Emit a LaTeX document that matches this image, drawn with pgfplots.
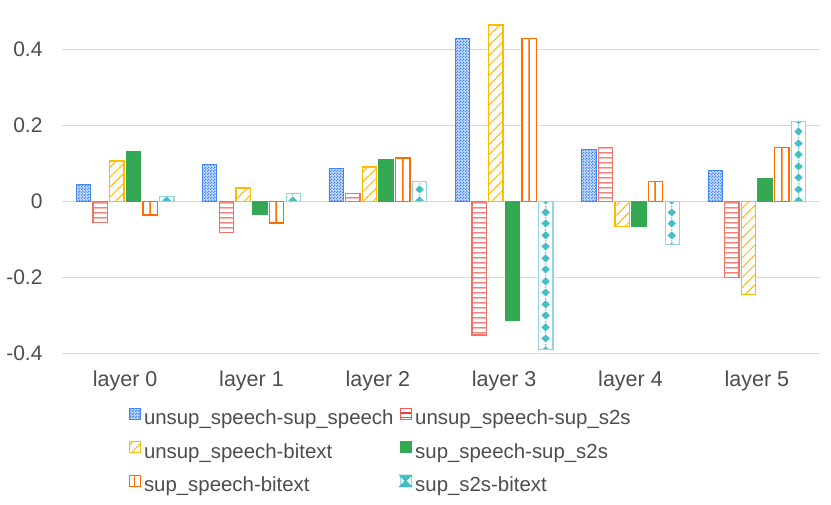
\documentclass[border=0pt]{standalone}
\usepackage{pgfplots}
\pgfplotsset{compat=1.18}
\usepackage{fontspec}
\setmainfont{Liberation Sans}
\usetikzlibrary{patterns.meta}
\definecolor{gblue}{HTML}{4285F4}
\definecolor{gred}{HTML}{EA4335}
\definecolor{gyellow}{HTML}{FBBC04}
\definecolor{ggreen}{HTML}{34A853}
\definecolor{gorange}{HTML}{FF6D01}
\definecolor{gteal}{HTML}{46BDC6}
\definecolor{txt}{HTML}{4D4D4D}
\definecolor{gridc}{HTML}{D9D9D9}
\pgfdeclarepattern{name=checker, type=uncolored,
  bottom left={\pgfpointorigin}, top right={\pgfpoint{3bp}{3bp}},
  tile size={\pgfpoint{3bp}{3bp}},
  code={\pgfpathrectangle{\pgfpointorigin}{\pgfpoint{1.6bp}{1.6bp}}%
        \pgfpathrectangle{\pgfpoint{1.5bp}{1.5bp}}{\pgfpoint{1.5bp}{1.5bp}}%
        \pgfusepath{fill}}}
\pgfdeclarepattern{name=hlines, type=uncolored,
  bottom left={\pgfpointorigin}, top right={\pgfpoint{379bp}{5bp}},
  tile size={\pgfpoint{379bp}{5bp}},
  code={\pgfpathrectangle{\pgfpoint{0bp}{2bp}}{\pgfpoint{379bp}{1.1bp}}\pgfusepath{fill}}}
% tile of three groups (3 x 126.333 = 379bp) so that its width is a whole number
\pgfdeclarepattern{name=vlines, type=uncolored,
  bottom left={\pgfpointorigin}, top right={\pgfpoint{379bp}{379bp}},
  tile size={\pgfpoint{379bp}{379bp}},
  code={\pgfpathrectangle{\pgfpoint{23.18bp}{0bp}}{\pgfpoint{1.5bp}{379bp}}%
        \pgfpathrectangle{\pgfpoint{149.52bp}{0bp}}{\pgfpoint{1.5bp}{379bp}}%
        \pgfpathrectangle{\pgfpoint{275.85bp}{0bp}}{\pgfpoint{1.5bp}{379bp}}%
        \pgfusepath{fill}}}
\def\dia#1#2{\pgfpathmoveto{\pgfpoint{#1bp}{\dimexpr#2bp-4.2bp\relax}}%
  \pgfpathlineto{\pgfpoint{\dimexpr#1bp+4.2bp\relax}{#2bp}}%
  \pgfpathlineto{\pgfpoint{#1bp}{\dimexpr#2bp+4.2bp\relax}}%
  \pgfpathlineto{\pgfpoint{\dimexpr#1bp-4.2bp\relax}{#2bp}}\pgfpathclose
  \pgfpathcircle{\pgfpoint{#1bp}{\dimexpr#2bp+5.75bp\relax}}{0.8bp}}
\pgfdeclarepattern{name=diamonds, type=uncolored,
  bottom left={\pgfpointorigin}, top right={\pgfpoint{379bp}{23bp}},
  tile size={\pgfpoint{379bp}{23bp}},
  code={\dia{40.58}{5.75}\dia{40.58}{17.25}%
        \dia{166.92}{5.75}\dia{166.92}{17.25}%
        \dia{293.25}{5.75}\dia{293.25}{17.25}%
        \pgfusepath{fill}}}
\pgfplotstableread{
x s1 s2 s3 s4 s5 s6
0 0.045 -0.056 0.106 0.130 -0.036 0.013
1 0.096 -0.082 0.035 -0.035 -0.057 0.021
2 0.087 0.021 0.090 0.110 0.114 0.052
3 0.428 -0.352 0.464 -0.313 0.428 -0.390
4 0.137 0.141 -0.067 -0.066 0.052 -0.113
5 0.081 -0.200 -0.245 0.060 0.141 0.209
}\datatable
\begin{document}
\begin{tikzpicture}
\path[use as bounding box] (0,0) rectangle (831bp,505bp);
\begin{axis}[
  at={(62bp,151.7bp)}, anchor=south west, scale only axis,
  width=758bp, height=334.4bp,
  xmin=-0.5, xmax=5.5, ymin=-0.4, ymax=0.48,
  axis line style={draw=none}, tick style={draw=none},
  ymajorgrids, grid style={color=gridc, line width=1bp},
  ytick={-0.4,-0.2,0,0.2,0.4}, yticklabels={-0.4,-0.2,0,0.2,0.4},
  xtick={0,1,2,3,4,5},
  xticklabels={layer 0,layer 1,layer 2,layer 3,layer 4,layer 5},
  ticklabel style={text=txt},
  xticklabel style={font=\fontsize{21.5bp}{25bp}\selectfont, yshift=-14bp},
  yticklabel style={font=\fontsize{21bp}{25bp}\selectfont, xshift=-16bp},
  legend columns=2,
  legend cell align=left,
  legend style={draw=none, fill=none, inner sep=0pt,
    at={(axis description cs:0.0875,-0.162)}, anchor=north west,
    font=\fontsize{20.4bp}{24bp}\selectfont, text=txt,
    row sep=13.3bp,
    /tikz/every odd column/.append style={column sep=1.5bp},
    /tikz/every even column/.append style={column sep=4bp}},
  legend image code/.code={\draw[#1, line width=1bp] (0bp,-1.5bp) rectangle (11bp,9.5bp);},
  every axis plot/.append style={ybar, bar width=0.1132, line width=1.2bp},
]
\addplot[draw=gblue, fill=gblue!30, postaction={pattern=checker, pattern color=gblue}, bar shift=-0.3305, line width=0.8bp]
  table[x=x,y=s1]{\datatable};
\addlegendentry{unsup\_speech-sup\_speech}
\addplot[draw=gred!75, fill=white, postaction={pattern=hlines, pattern color=gred}, bar shift=-0.1983,
  legend image code/.code={\draw[gred!85, line width=1bp, fill=white] (0bp,-1.5bp) rectangle (11bp,9.5bp);
     \draw[gred, line width=1.2bp] (0bp,4bp) -- (11bp,4bp);}]
  table[x=x,y=s2]{\datatable};
\addlegendentry{unsup\_speech-sup\_s2s}
\addplot[draw=gyellow, fill=white, postaction={pattern={Lines[angle=45,distance=7bp,line width=1bp]}, pattern color=gyellow}, bar shift=-0.0661]
  table[x=x,y=s3]{\datatable};
\addlegendentry{unsup\_speech-bitext}
\addplot[draw=ggreen, fill=ggreen, bar shift=0.0661]
  table[x=x,y=s4]{\datatable};
\addlegendentry{sup\_speech-sup\_s2s}
\addplot[draw=gorange, fill=white, postaction={pattern=vlines, pattern color=gorange}, bar shift=0.1983,
  legend image code/.code={\draw[gorange, line width=1bp, fill=white] (0bp,-1.5bp) rectangle (11bp,9.5bp);
     \draw[gorange, line width=1.2bp] (5.5bp,-1.5bp) -- (5.5bp,9.5bp);}]
  table[x=x,y=s5]{\datatable};
\addlegendentry{sup\_speech-bitext}
\addplot[draw=gteal!60, fill=white, postaction={pattern=diamonds, pattern color=gteal}, bar shift=0.3305,
  legend image code/.code={\draw[gteal!60, line width=1bp, fill=white] (0bp,-1.5bp) rectangle (11bp,9.5bp);
     \fill[gteal] (0bp,9.5bp) -- (11bp,9.5bp) -- (5.5bp,4bp) -- cycle (0bp,-1.5bp) -- (11bp,-1.5bp) -- (5.5bp,4bp) -- cycle;}]
  table[x=x,y=s6]{\datatable};
\addlegendentry{sup\_s2s-bitext}
\end{axis}
\end{tikzpicture}
\end{document}
